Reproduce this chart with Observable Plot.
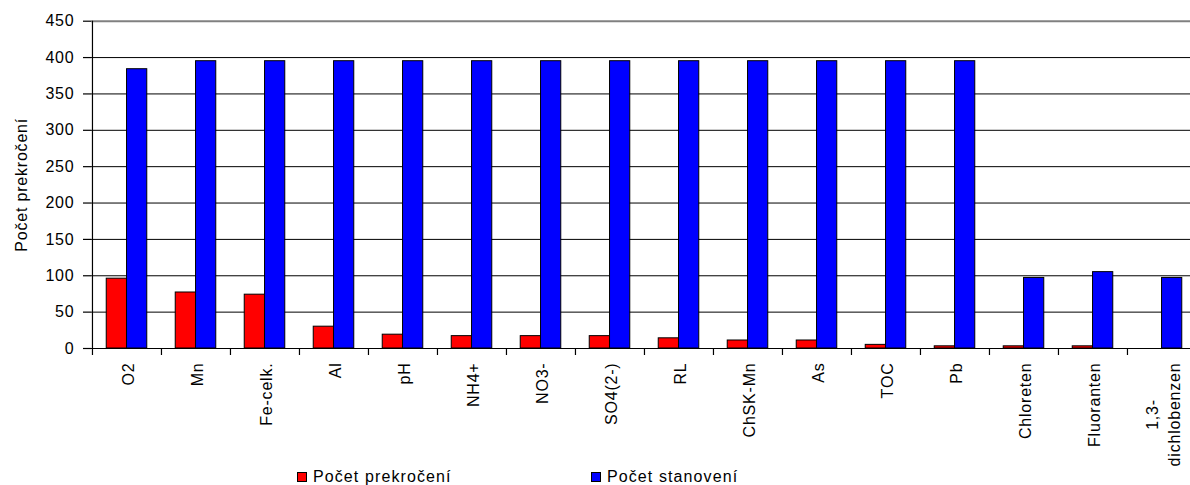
<!DOCTYPE html>
<html>
<head>
<meta charset="utf-8">
<script src="https://cdn.jsdelivr.net/npm/d3@7"></script>
<script src="https://cdn.jsdelivr.net/npm/@observablehq/plot@0.6"></script>
<style>
  body { margin: 0; background: #fff; }
  #chart { position: relative; width: 1190px; height: 485px; overflow: hidden;
           font-family: "Liberation Sans", Arial, sans-serif; }
  .legend-item { position: absolute; top: 469px; font-size: 16px; letter-spacing: 1.1px;
                 line-height: 16px; color: #000; white-space: nowrap; }
  .swatch { display: inline-block; width: 8px; height: 8px; border: 1px solid #000;
            margin-right: 6px; vertical-align: 0px; }
</style>
</head>
<body>
<div id="chart"></div>
<script>
// Monitored parameters (categories on the x axis)
const categories = ["O2", "Mn", "Fe-celk.", "Al", "pH", "NH4+", "NO3-", "SO4(2-)", "RL",
                    "ChSK-Mn", "As", "TOC", "Pb", "Chloreten", "Fluoranten", "1,3-dichlobenzen"];
// Tick labels (the long one wraps onto two lines)
const tickLabels = ["O2", "Mn", "Fe-celk.", "Al", "pH", "NH4+", "NO3-", "SO4(2-)", "RL",
                    "ChSK-Mn", "As", "TOC", "Pb", "Chloreten", "Fluoranten", "1,3-\ndichlobenzen"];
// Number of limit exceedances
const exceedances = [96, 77, 74, 30, 19, 17, 17, 17, 14, 11, 11, 5, 3, 3, 3, 0];
// Number of determinations
const determinations = [384, 395, 395, 395, 395, 395, 395, 395, 395, 395, 395, 395, 395, 97, 105, 97];
// Value axis ticks
const yTicks = [0, 50, 100, 150, 200, 250, 300, 350, 400, 450];
const seriesNames = ["Počet prekročení", "Počet stanovení"];
const seriesColors = ["#ff0000", "#0000ff"];
const yTitle = "Počet prekročení";

const rows = categories.map((c, i) => ({category: c, exceed: exceedances[i], determ: determinations[i]}));

const width = 1190, height = 485;
const marginLeft = 91, marginRight = -6, marginTop = 20.7, marginBottom = 137;
const bw = (width - marginLeft - marginRight) / categories.length; // band width
const barW = 20.3;
const gap = (bw - 2 * barW) / 2;

const chart = Plot.plot({
  width, height, marginLeft, marginRight, marginTop, marginBottom,
  style: {fontFamily: '"Liberation Sans", Arial, sans-serif', fontSize: "16px", letterSpacing: "0.8px", background: "#fff"},
  x: {domain: categories, padding: 0},
  y: {domain: [0, 450]},
  marks: [
    // horizontal gridlines
    Plot.ruleY(yTicks.filter(v => v > 0 && v < 450), {stroke: "#000", strokeWidth: 1}),
    Plot.ruleY([450], {stroke: "#808080", strokeWidth: 2}),
    // clustered bars
    Plot.barY(rows, {x: "category", y: "exceed", fill: seriesColors[0], stroke: "#000", strokeWidth: 1,
                     insetLeft: gap, insetRight: bw - gap - barW}),
    Plot.barY(rows, {x: "category", y: "determ", fill: seriesColors[1], stroke: "#000", strokeWidth: 1,
                     insetLeft: gap + barW, insetRight: gap}),
    // axis lines
    Plot.ruleY([0], {stroke: "#000", strokeWidth: 1.2}),
    Plot.ruleX([categories[0]], {dx: -bw / 2, y1: 0, y2: 450, stroke: "#000", strokeWidth: 1.2}),
    // value axis
    Plot.axisY({ticks: yTicks, tickSize: 8, tickPadding: 9, label: null, strokeWidth: 1.2}),
    // category boundary ticks
    Plot.axisX({tickSize: 7, tickFormat: () => "", dx: -bw / 2, label: null, strokeWidth: 1.2}),
    // category labels, rotated
    Plot.axisX({tickSize: 0, tickPadding: 14, tickRotate: -90, label: null, lineHeight: 1.4,
                tickFormat: d => tickLabels[categories.indexOf(d)], ariaLabel: "category-labels"}),
    // value axis title
    Plot.text([yTitle], {frameAnchor: "left", textAnchor: "middle", rotate: -90, dx: -70,
                         fontSize: 16, letterSpacing: 0})
  ]
});

const root = document.getElementById("chart");
root.appendChild(chart);

// wrapped category labels: centre the lines on each other, keeping the block's top edge
chart.querySelectorAll("text").forEach(t => {
  const spans = t.querySelectorAll("tspan");
  if (spans.length < 2) return;
  const longest = Math.max(...Array.from(spans, s => s.getComputedTextLength()));
  t.setAttribute("text-anchor", "middle");
  spans.forEach(s => s.setAttribute("x", -longest / 2));
});

// legend below the plot area
const legendX = [297, 591];
seriesNames.forEach((name, i) => {
  const item = document.createElement("div");
  item.className = "legend-item";
  item.style.left = legendX[i] + "px";
  const sw = document.createElement("span");
  sw.className = "swatch";
  sw.style.background = seriesColors[i];
  item.appendChild(sw);
  item.appendChild(document.createTextNode(name));
  root.appendChild(item);
});
</script>
</body>
</html>
